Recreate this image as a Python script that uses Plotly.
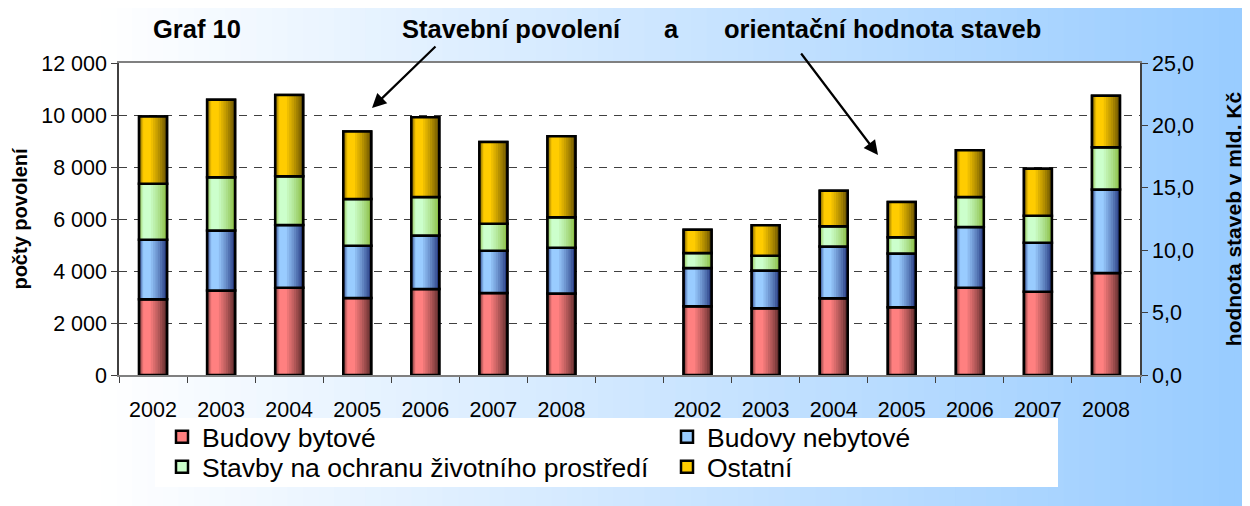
import plotly.graph_objects as go

# --- data -------------------------------------------------------------
years = ['2002', '2003', '2004', '2005', '2006', '2007', '2008']

# pocty povoleni (left axis)
byt_pocet = [2910, 3250, 3360, 2960, 3310, 3150, 3130]
nebyt_pocet = [2295, 2310, 2410, 2010, 2060, 1630, 1760]
zp_pocet = [2150, 2050, 1870, 1800, 1480, 1040, 1180]
ost_pocet = [2590, 2975, 3130, 2600, 3060, 3140, 3110]

# orientacni hodnota staveb v mld. Kc (right axis)
byt_hod = [5.50, 5.34, 6.14, 5.42, 7.00, 6.68, 8.17]
nebyt_hod = [3.07, 3.04, 4.16, 4.32, 4.86, 3.92, 6.70]
zp_hod = [1.21, 1.18, 1.61, 1.29, 2.40, 2.17, 3.37]
ost_hod = [1.86, 2.43, 2.86, 2.83, 3.74, 3.76, 4.14]

names = ['Budovy bytové', 'Budovy nebytové',
         'Stavby na ochranu životního prostředí', 'Ostatní']

# --- styles -----------------------------------------------------------
colors = [
    dict(main=(255, 128, 128), dark=(95, 45, 45)),
    dict(main=(153, 204, 255), dark=(40, 60, 130)),
    dict(main=(204, 255, 204), dark=(140, 190, 70)),
    dict(main=(255, 204, 0), dark=(105, 82, 0)),
]
FONT = 'Liberation Sans, Arial, sans-serif'
BW = 0.41      # bar width in category units
K = 8          # shading layers per segment

# page is 1250x506, the browser body has an 8px margin
W, H, OFF = 1250, 506, 8
FW, FH = W - OFF, H - OFF
L_PX, R_PX, T_PX, B_PX = 119, 1140, 63, 375   # plot area on the page


def rgb(c):
    return 'rgb(%d,%d,%d)' % tuple(int(round(v)) for v in c)


def mix(a, b, s):
    return tuple(a[i] + (b[i] - a[i]) * s for i in range(3))


def px_x(px):
    return (px - L_PX) / (R_PX - L_PX)


def px_y(py):
    return (B_PX - py) / (B_PX - T_PX)


fig = go.Figure()

x_left = list(range(0, 7))
x_right = list(range(8, 15))


def add_group(xs, series, yaxis, show):
    bases = [0] * len(xs)
    for i, vals in enumerate(series):
        col = colors[i]
        lg = 'legend' if i < 2 else 'legend2'
        fig.add_bar(x=xs, y=vals, base=bases, width=BW, name=names[i],
                    legend=lg, showlegend=show, yaxis=yaxis,
                    marker=dict(color=rgb(col['main']),
                                line=dict(color='black', width=2.5)))
        # cylinder-like shading: nested, progressively lighter layers
        for k in range(K):
            s = k / (K - 1)
            lo = 0.15 * s
            hi = 1 - 0.58 * s
            fig.add_bar(x=xs, y=vals, base=bases, width=BW * (hi - lo),
                        offset=-BW / 2 + BW * lo, yaxis=yaxis,
                        showlegend=False, hoverinfo='skip',
                        marker=dict(color=rgb(mix(col['dark'], col['main'], s ** 0.8)),
                                    line=dict(width=0)))
        fig.add_bar(x=xs, y=vals, base=bases, width=BW, yaxis=yaxis,
                    showlegend=False, hoverinfo='skip',
                    marker=dict(color='rgba(0,0,0,0)',
                                line=dict(color='black', width=2.5)))
        bases = [b + v for b, v in zip(bases, vals)]


add_group(x_left, [byt_pocet, nebyt_pocet, zp_pocet, ost_pocet], 'y', True)
add_group(x_right, [byt_hod, nebyt_hod, zp_hod, ost_hod], 'y2', False)

# --- background: horizontal gradient white -> light blue --------------
shapes = []
N = 80
c0, c1 = (255, 255, 255), (153, 204, 255)
for i in range(N):
    a = OFF + i * FW / N
    b = OFF + (i + 1) * FW / N + 1
    t = min(max(((a + b) / 2 - 100) / 1130, 0), 1)
    shapes.append(dict(type='rect', xref='paper', yref='paper', layer='below',
                       x0=px_x(a), x1=px_x(b), y0=px_y(H), y1=px_y(OFF),
                       fillcolor=rgb(mix(c0, c1, t)), line=dict(width=0)))
# plot area and legend boxes
shapes.append(dict(type='rect', xref='paper', yref='paper', layer='below',
                   x0=0, x1=1, y0=0, y1=1, fillcolor='white', line=dict(width=0)))
shapes.append(dict(type='rect', xref='paper', yref='paper', layer='below',
                   x0=px_x(155), x1=px_x(1058), y0=px_y(487), y1=px_y(418),
                   fillcolor='white', line=dict(width=0)))

annotations = [
    dict(text='<b>Graf 10</b>', x=px_x(151), y=px_y(29), xanchor='left'),
    dict(text='<b>Stavební povolení</b>', x=px_x(400), y=px_y(29), xanchor='left'),
    dict(text='<b>a</b>', x=px_x(671), y=px_y(29), xanchor='center'),
    dict(text='<b>orientační hodnota staveb</b>', x=px_x(722), y=px_y(29), xanchor='left'),
]
for a in annotations:
    a.update(xref='paper', yref='paper', yanchor='middle', showarrow=False,
             font=dict(family=FONT, size=25.5, color='black'))

# arrows from the title to the two groups
annotations.append(dict(xref='paper', yref='paper', x=px_x(372), y=px_y(108),
                        ax=65, ay=-63, text='', showarrow=True, arrowhead=2,
                        arrowsize=1.3, arrowwidth=2.2, arrowcolor='black'))
annotations.append(dict(xref='paper', yref='paper', x=px_x(878), y=px_y(155),
                        ax=-78, ay=-103, text='', showarrow=True, arrowhead=2,
                        arrowsize=1.3, arrowwidth=2.2, arrowcolor='black'))

legend_style = dict(orientation='h', x=px_x(162), xanchor='left',
                    yanchor='middle', bgcolor='rgba(0,0,0,0)', entrywidth=460,
                    font=dict(family=FONT, size=26.5, color='black'),
                    traceorder='normal', itemclick=False)

fig.update_layout(
    width=FW, height=FH,
    margin=dict(l=L_PX - OFF, r=FW - (R_PX - OFF), t=T_PX - OFF,
                b=FH - (B_PX - OFF), pad=0, autoexpand=False),
    barmode='overlay',
    paper_bgcolor='white', plot_bgcolor='white',
    separators=', ',
    font=dict(family=FONT, size=21.5, color='black'),
    shapes=shapes, annotations=annotations,
    legend=dict(legend_style, y=px_y(437)),
    legend2=dict(legend_style, y=px_y(467)),
    xaxis=dict(range=[-0.5, 14.5], tickmode='array',
               tickvals=x_left + x_right, ticktext=years + years,
               ticks='', showgrid=False, zeroline=False,
               showline=True, linecolor='#808080', linewidth=2, mirror=True,
               ticklabelstandoff=14,
               minor=dict(tickmode='linear', tick0=-0.5, dtick=1,
                          ticks='outside', ticklen=6, tickcolor='#404040',
                          showgrid=False)),
    yaxis=dict(range=[0, 12000], dtick=2000, tickformat=',d',
               ticks='outside', ticklen=6, tickcolor='#404040',
               showline=True, linecolor='#404040', linewidth=1.5,
               showgrid=True, gridcolor='#404040', griddash='8px,7px',
               gridwidth=1, zeroline=False,
               title=dict(text='<b>počty povolení</b>', standoff=8,
                          font=dict(family=FONT, size=20))),
    yaxis2=dict(range=[0, 25], dtick=5, tickformat='.1f', overlaying='y',
                side='right', ticks='outside', ticklen=6, tickcolor='#404040',
                showline=True, linecolor='#404040', linewidth=1.5,
                showgrid=False, zeroline=False,
                title=dict(text='<b>hodnota staveb v mld. Kč</b>', standoff=33,
                           font=dict(family=FONT, size=21))),
)

fig.write_html('out.html')
